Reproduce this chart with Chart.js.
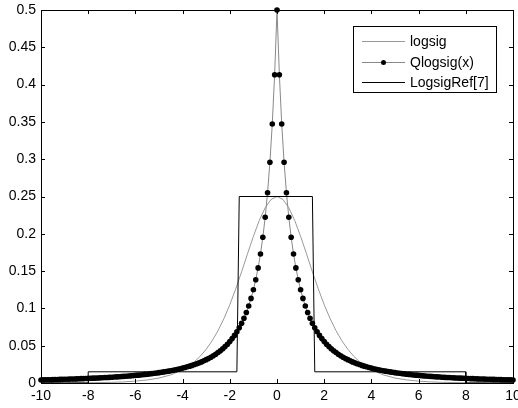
<!DOCTYPE html>
<html><head><meta charset="utf-8">
<script src="https://cdn.jsdelivr.net/npm/chart.js@4"></script>
<style>html,body{margin:0;padding:0;background:#fff}#w{width:518px;height:408px}</style>
</head><body><div id="w"><canvas id="c"></canvas></div>
<script>
const seriesNames = ['logsig', 'Qlogsig(x)', 'LogsigRef[7]'];
const xTicks = [-10, -8, -6, -4, -2, 0, 2, 4, 6, 8, 10];
const yTicks = [0, 0.05, 0.1, 0.15, 0.2, 0.25, 0.3, 0.35, 0.4, 0.45, 0.5];
const yTickLabels = ['0', '0.05', '0.1', '0.15', '0.2', '0.25', '0.3', '0.35', '0.4', '0.45', '0.5'];

const logsigX = [-10,-9,-8,-7.5,-7,-6.5,-6,-5.5,-5,-4.5,-4,-3.75,-3.5,-3.25,-3,-2.75,-2.5,-2.25,-2,-1.75,-1.5,-1.25,-1,-0.75,-0.5,-0.25,0,
 0.25,0.5,0.75,1,1.25,1.5,1.75,2,2.25,2.5,2.75,3,3.25,3.5,3.75,4,4.5,5,5.5,6,6.5,7,7.5,8,9,10];
const logsigY = [0.00005,0.00012,0.00034,0.00055,0.0009,0.0015,0.0025,0.0041,0.0066,0.0109,0.0177,0.0224,0.0285,0.0359,0.0452,0.0565,0.0701,0.0863,0.1050,0.1261,0.1491,0.1731,0.1966,0.2179,0.2350,0.2461,0.25,
 0.2461,0.2350,0.2179,0.1966,0.1731,0.1491,0.1261,0.1050,0.0863,0.0701,0.0565,0.0452,0.0359,0.0285,0.0224,0.0177,0.0109,0.0066,0.0041,0.0025,0.0015,0.0009,0.00055,0.00034,0.00012,0.00005];

const qX = [-10,-9.9,-9.8,-9.7,-9.6,-9.5,-9.4,-9.3,-9.2,-9.1,
 -9,-8.9,-8.8,-8.7,-8.6,-8.5,-8.4,-8.3,-8.2,-8.1,
 -8,-7.9,-7.8,-7.7,-7.6,-7.5,-7.4,-7.3,-7.2,-7.1,
 -7,-6.9,-6.8,-6.7,-6.6,-6.5,-6.4,-6.3,-6.2,-6.1,
 -6,-5.9,-5.8,-5.7,-5.6,-5.5,-5.4,-5.3,-5.2,-5.1,
 -5,-4.9,-4.8,-4.7,-4.6,-4.5,-4.4,-4.3,-4.2,-4.1,
 -4,-3.9,-3.8,-3.7,-3.6,-3.5,-3.4,-3.3,-3.2,-3.1,
 -3,-2.9,-2.8,-2.7,-2.6,-2.5,-2.4,-2.3,-2.2,-2.1,
 -2,-1.9,-1.8,-1.7,-1.6,-1.5,-1.4,-1.3,-1.2,-1.1,
 -1,-0.9,-0.8,-0.7,-0.6,-0.5,-0.4,-0.3,-0.2,-0.1,
 0,
 0.1,0.2,0.3,0.4,0.5,0.6,0.7,0.8,0.9,1,
 1.1,1.2,1.3,1.4,1.5,1.6,1.7,1.8,1.9,2,
 2.1,2.2,2.3,2.4,2.5,2.6,2.7,2.8,2.9,3,
 3.1,3.2,3.3,3.4,3.5,3.6,3.7,3.8,3.9,4,
 4.1,4.2,4.3,4.4,4.5,4.6,4.7,4.8,4.9,5,
 5.1,5.2,5.3,5.4,5.5,5.6,5.7,5.8,5.9,6,
 6.1,6.2,6.3,6.4,6.5,6.6,6.7,6.8,6.9,7,
 7.1,7.2,7.3,7.4,7.5,7.6,7.7,7.8,7.9,8,
 8.1,8.2,8.3,8.4,8.5,8.6,8.7,8.8,8.9,9,
 9.1,9.2,9.3,9.4,9.5,9.6,9.7,9.8,9.9,10];
const qY = [0.0041,0.0042,0.0043,0.0044,0.0044,0.0045,0.0046,0.0047,0.0048,0.0049,
 0.0050,0.0051,0.0052,0.0053,0.0054,0.0055,0.0057,0.0058,0.0059,0.0060,
 0.0062,0.0063,0.0065,0.0066,0.0068,0.0069,0.0071,0.0073,0.0074,0.0076,
 0.0078,0.0080,0.0082,0.0084,0.0087,0.0089,0.0091,0.0094,0.0096,0.0099,
 0.0102,0.0105,0.0108,0.0111,0.0115,0.0118,0.0122,0.0126,0.0130,0.0134,
 0.0139,0.0144,0.0149,0.0154,0.0159,0.0165,0.0171,0.0178,0.0185,0.0192,
 0.0200,0.0208,0.0217,0.0226,0.0236,0.0247,0.0258,0.0270,0.0283,0.0297,
 0.0313,0.0329,0.0346,0.0365,0.0386,0.0408,0.0433,0.0459,0.0488,0.0520,
 0.0556,0.0595,0.0638,0.0686,0.0740,0.0800,0.0868,0.0945,0.1033,0.1134,
 0.1250,0.1385,0.1543,0.1730,0.1953,0.2222,0.2551,0.2959,0.3472,0.4132,
 0.5,
 0.4132,0.3472,0.2959,0.2551,0.2222,0.1953,0.1730,0.1543,0.1385,0.1250,
 0.1134,0.1033,0.0945,0.0868,0.0800,0.0740,0.0686,0.0638,0.0595,0.0556,
 0.0520,0.0488,0.0459,0.0433,0.0408,0.0386,0.0365,0.0346,0.0329,0.0313,
 0.0297,0.0283,0.0270,0.0258,0.0247,0.0236,0.0226,0.0217,0.0208,0.0200,
 0.0192,0.0185,0.0178,0.0171,0.0165,0.0159,0.0154,0.0149,0.0144,0.0139,
 0.0134,0.0130,0.0126,0.0122,0.0118,0.0115,0.0111,0.0108,0.0105,0.0102,
 0.0099,0.0096,0.0094,0.0091,0.0089,0.0087,0.0084,0.0082,0.0080,0.0078,
 0.0076,0.0074,0.0073,0.0071,0.0069,0.0068,0.0066,0.0065,0.0063,0.0062,
 0.0060,0.0059,0.0058,0.0057,0.0055,0.0054,0.0053,0.0052,0.0051,0.0050,
 0.0049,0.0048,0.0047,0.0046,0.0045,0.0044,0.0044,0.0043,0.0042,0.0041];

const refX = [-10,-8,-8,-1.7,-1.6,1.5,1.6,8,8,10];
const refY = [0,0,0.015,0.015,0.25,0.25,0.015,0.015,0,0];

const pts = (xs, ys) => xs.map((x, i) => ({x: x, y: ys[i]}));
const FAMILY = '"Liberation Sans", Arial, sans-serif';
const FONT = '14px ' + FAMILY;

const frame = {
  id: 'frame',
  afterDatasetsDraw(chart) {
    const {ctx, chartArea: a, scales: {x, y}} = chart;
    ctx.save();
    ctx.strokeStyle = '#000';
    ctx.lineWidth = 1;
    ctx.beginPath();
    const L = 4;
    xTicks.forEach(v => {
      const px = Math.round(x.getPixelForValue(v)) + 0.5;
      ctx.moveTo(px, a.bottom); ctx.lineTo(px, a.bottom - L);
      ctx.moveTo(px, a.top); ctx.lineTo(px, a.top + L);
    });
    yTicks.forEach(v => {
      const py = Math.round(y.getPixelForValue(v)) + 0.5;
      ctx.moveTo(a.left, py); ctx.lineTo(a.left + L, py);
      ctx.moveTo(a.right, py); ctx.lineTo(a.right - L, py);
    });
    ctx.stroke();
    ctx.strokeRect(Math.round(a.left) + 0.5, Math.round(a.top) + 0.5, Math.round(a.right - a.left), Math.round(a.bottom - a.top));
    const bx = 353.5, by = 26.5, bw = 143, bh = 66;
    ctx.fillStyle = '#fff';
    ctx.fillRect(bx, by, bw, bh);
    ctx.strokeRect(bx, by, bw, bh);
    const rows = [41, 62, 82];
    const styles = [
      {c: '#999', dot: false},
      {c: '#888', dot: true},
      {c: '#000', dot: false}
    ];
    ctx.font = FONT;
    ctx.textBaseline = 'middle';
    ctx.textAlign = 'left';
    rows.forEach((ry, i) => {
      ctx.beginPath();
      ctx.strokeStyle = styles[i].c;
      ctx.moveTo(362, ry + 0.5); ctx.lineTo(405, ry + 0.5);
      ctx.stroke();
      if (styles[i].dot) {
        ctx.beginPath();
        ctx.fillStyle = '#000';
        ctx.arc(383.5, ry + 0.5, 2.5, 0, Math.PI * 2);
        ctx.fill();
      }
      ctx.fillStyle = '#000';
      ctx.fillText(seriesNames[i], 410, ry + 1);
    });
    ctx.restore();
  }
};

new Chart(document.getElementById('c'), {
  type: 'line',
  data: {
    datasets: [
      {label: seriesNames[2], data: pts(refX, refY), borderColor: '#000', borderWidth: 1, pointRadius: 0, tension: 0, order: 0},
      {label: seriesNames[1], data: pts(qX, qY), borderColor: '#888', borderWidth: 1, pointRadius: 2.8, pointBackgroundColor: '#000', pointBorderColor: '#000', pointBorderWidth: 0, tension: 0, clip: false, order: 1},
      {label: seriesNames[0], data: pts(logsigX, logsigY), borderColor: '#999', borderWidth: 1, pointRadius: 0, tension: 0, order: 2}
    ]
  },
  options: {
    responsive: true,
    maintainAspectRatio: false,
    animation: false,
    events: [],
    layout: {padding: {top: 10, right: 5, left: 0, bottom: 0}},
    plugins: {legend: {display: false}, tooltip: {enabled: false}},
    scales: {
      x: {
        type: 'linear', min: -10, max: 10,
        grid: {display: false, drawTicks: false},
        border: {display: false},
        ticks: {color: '#000', font: {family: FAMILY, size: 14}, padding: 5, maxRotation: 0, autoSkip: false,
          callback: v => String(v)},
        afterBuildTicks: s => { s.ticks = xTicks.map(v => ({value: v})); },
        afterFit: s => { s.height = 25; s.paddingLeft = 0; s.paddingRight = 0; }
      },
      y: {
        type: 'linear', min: 0, max: 0.5,
        grid: {display: false, drawTicks: false},
        border: {display: false},
        ticks: {color: '#000', font: {family: FAMILY, size: 14}, padding: 5, autoSkip: false,
          callback: (v, i) => yTickLabels[i]},
        afterBuildTicks: s => { s.ticks = yTicks.map(v => ({value: v})); },
        afterFit: s => { s.width = 41; s.paddingTop = 0; s.paddingBottom = 0; }
      }
    }
  },
  plugins: [frame]
});
</script>
</body></html>
